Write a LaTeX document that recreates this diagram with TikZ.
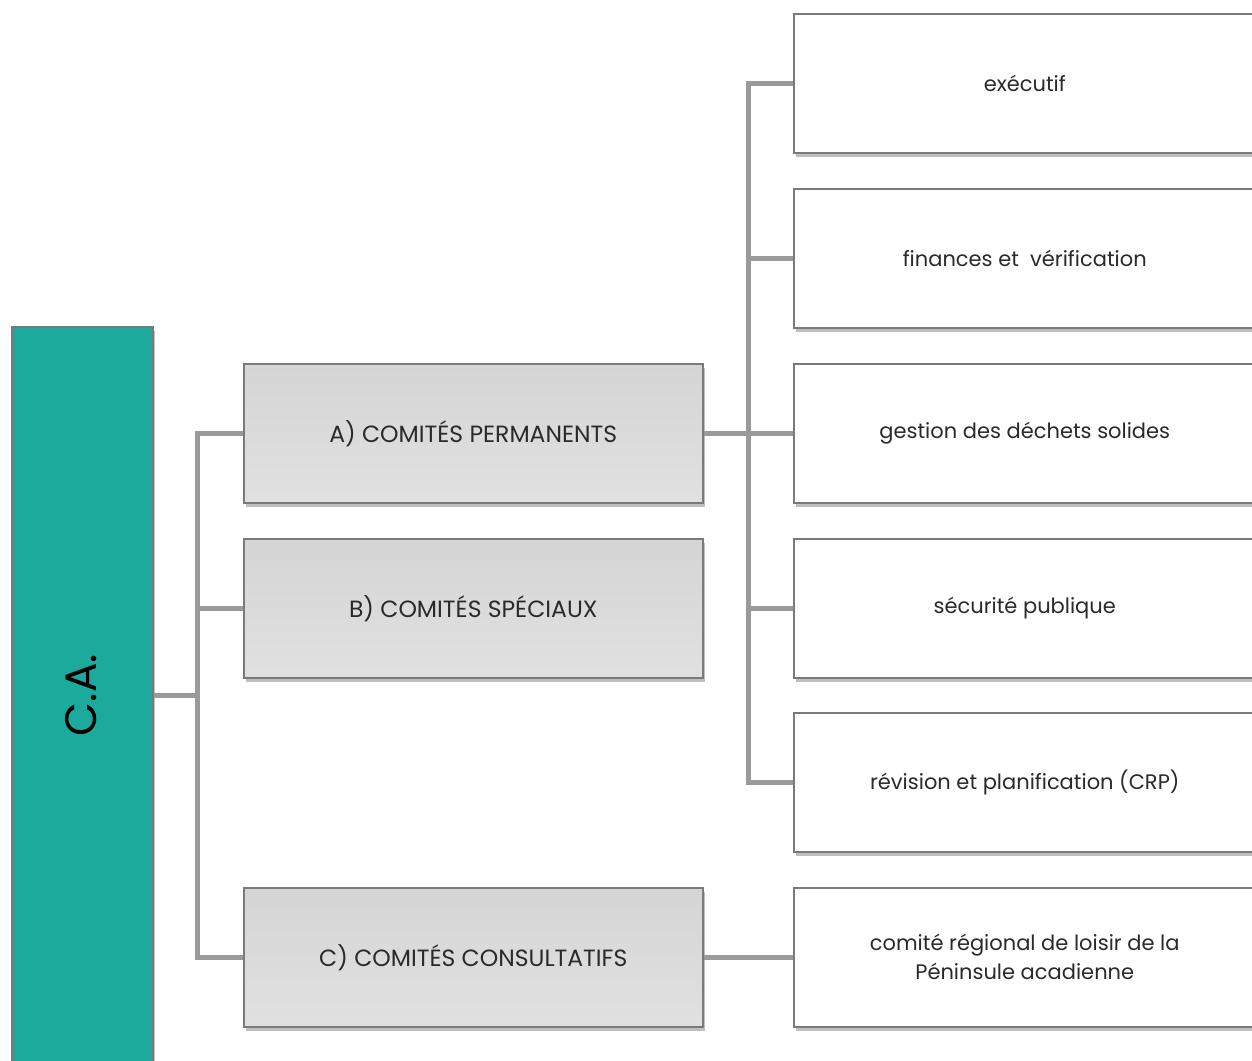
\documentclass[tikz,border=0pt]{standalone}
\usepackage{fontspec}
\setmainfont{Poppins}
\usetikzlibrary{shadows}
\definecolor{teal1}{HTML}{1BAA9C}
\definecolor{conncol}{HTML}{9A9A9A}
\definecolor{bordcol}{HTML}{7A7A7A}
\definecolor{txtcol}{HTML}{2A2A2A}
\begin{document}
\begin{tikzpicture}[x=1pt,y=-1pt,
  boxbase/.style={draw=bordcol,line width=1.5pt,inner sep=0pt,anchor=north west,
    drop shadow={shadow xshift=2pt,shadow yshift=-4pt,opacity=0.25,fill=black},
    font=\fontsize{21}{29}\selectfont,text=txtcol,align=center},
  graybox/.style={boxbase,top color=gray!33,bottom color=gray!24,minimum width=459pt,minimum height=139pt,
    font=\fontsize{23.5}{29}\selectfont},
  whitebox/.style={boxbase,fill=white,minimum width=462pt,minimum height=139pt},
  conn/.style={draw=conncol,line width=5pt,line join=miter}]
\useasboundingbox (0,0) rectangle (1252,1060);
% main box
\node[boxbase,fill=teal1,minimum width=141pt,minimum height=738pt] (ca) at (11,326) {};
\node[rotate=90,font=\fontsize{44}{48}\selectfont,text=black] (catext) at (81,695) {C.A.};
% gray boxes
\node[graybox] (a) at (243,363) {A) COMITÉS PERMANENTS};
\node[graybox] (b) at (243,538) {B) COMITÉS SPÉCIAUX};
\node[graybox] (c) at (243,887) {C) COMITÉS CONSULTATIFS};
% white boxes
\node[whitebox] (s1) at (793,13) {exécutif};
\node[whitebox] (s2) at (793,188) {finances et\ \ vérification};
\node[whitebox] (s3) at (793,363) {gestion des déchets solides};
\node[whitebox] (s4) at (793,538) {sécurité publique};
\node[whitebox] (s5) at (793,712) {révision et planification (CRP)};
\node[whitebox] (s6) at (793,887) {comité régional de loisir de la\\Péninsule acadienne};
% junctions
\coordinate (j1) at (197,695);
\coordinate (j2) at (748,432);
% connectors
\draw[conn] (ca.east) -- (ca.east -| j1);
\draw[conn] (a.west) -| (j1) |- (c.west);
\draw[conn] (b.west) -- (b.west -| j1);
\draw[conn] (a.east) -- (s3.west);
\draw[conn] (s1.west) -| (j2) |- (s5.west);
\draw[conn] (s2.west) -- (s2.west -| j2);
\draw[conn] (s4.west) -- (s4.west -| j2);
\draw[conn] (c.east) -- (s6.west);
\end{tikzpicture}
\end{document}
